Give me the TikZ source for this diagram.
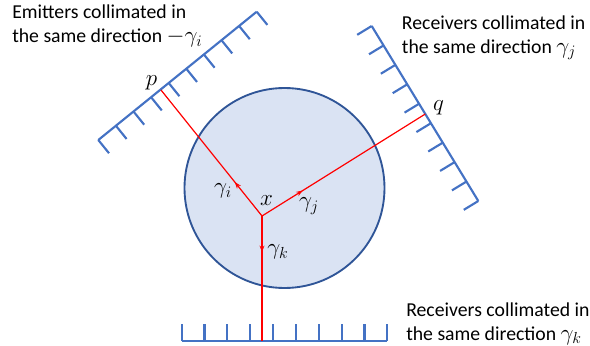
\documentclass[tikz,border=0pt]{standalone}
\usepackage{fontspec}
\setmainfont{Carlito}
\usetikzlibrary{arrows.meta,decorations.markings,calc}
\definecolor{barblue}{HTML}{4472C4}
\definecolor{circfill}{HTML}{DAE3F3}
\definecolor{circedge}{HTML}{2F5597}
\newcommand{\bigmath}[1]{{\fontsize{17.5pt}{18pt}\selectfont$#1$}}
\begin{document}
\begin{tikzpicture}[x=0.75pt,y=-0.75pt,
  bar/.style={draw=barblue,line width=1.6pt},
  ray/.style={draw=red,line width=0.9pt},
  midarrow/.style={postaction={decorate},decoration={markings,
     mark=at position #1 with {\arrow[red]{Stealth[length=5pt,width=3.6pt]}}}},
  lbl/.style={font=\fontsize{14.8pt}{18pt}\selectfont,align=left,anchor=base west,inner sep=0pt},
  mlbl/.style={font=\fontsize{17.5pt}{18pt}\selectfont,inner sep=0pt}]
\useasboundingbox (0,0) rectangle (590,346);
% circle
\node[circle,draw=circedge,fill=circfill,line width=1.4pt,minimum size=150pt,inner sep=0pt] (obj) at (284.5,188) {};
% bar end points
\coordinate (ulA) at (98.3,140);
\coordinate (ulB) at (256.7,11.7);
\coordinate (urA) at (371.7,26);
\coordinate (urB) at (478.3,201);
\coordinate (bA) at (181.7,341);
\coordinate (bB) at (387.3,341);
% bars
\draw[bar] (ulA) -- (ulB);
\foreach \i in {0,...,9}{
  \draw[bar] ($(ulA)!\i/9!(ulB)$) -- ++(0.629*17,0.777*17);
}
\draw[bar] (urA) -- (urB);
\foreach \i in {0,...,9}{
  \draw[bar] ($(urA)!\i/9!(urB)$) -- ++(-0.854*17,0.52*17);
}
\draw[bar] (bA) -- (bB);
\foreach \i in {0,...,9}{
  \draw[bar] ($(bA)!\i/9!(bB)$) -- ++(0,-17);
}
% ray points
\coordinate (x) at (262,216);
\coordinate (p) at (161,90);
\coordinate (q) at (425.3,114);
\coordinate (r) at (262,341);
\draw[ray,midarrow=0.27] (x) -- (p);
\draw[ray,midarrow=0.25] (x) -- (q);
\draw[ray,midarrow=0.29] (x) -- (r);
% labels
\node[mlbl] (lp) at (151.5,83) {$p$};
\node[mlbl] (lq) at (438.5,108) {$q$};
\node[mlbl] (lx) at (266.5,201) {$x$};
\node[mlbl] (lgi) at (223,191) {$\gamma_i$};
\node[mlbl] (lgj) at (309,206) {$\gamma_j$};
\node[mlbl] (lgk) at (278,252) {$\gamma_k$};
% texts
\node[lbl] (t1) at (12,43) {Emitters collimated in\\the same direction \bigmath{-\gamma_i}};
\node[lbl] (t2) at (401.7,53.3) {Receivers collimated in\\the same direction \bigmath{\gamma_j}};
\node[lbl] (t3) at (406,340) {Receivers collimated in\\the same direction \bigmath{\gamma_k}};
\end{tikzpicture}
\end{document}
